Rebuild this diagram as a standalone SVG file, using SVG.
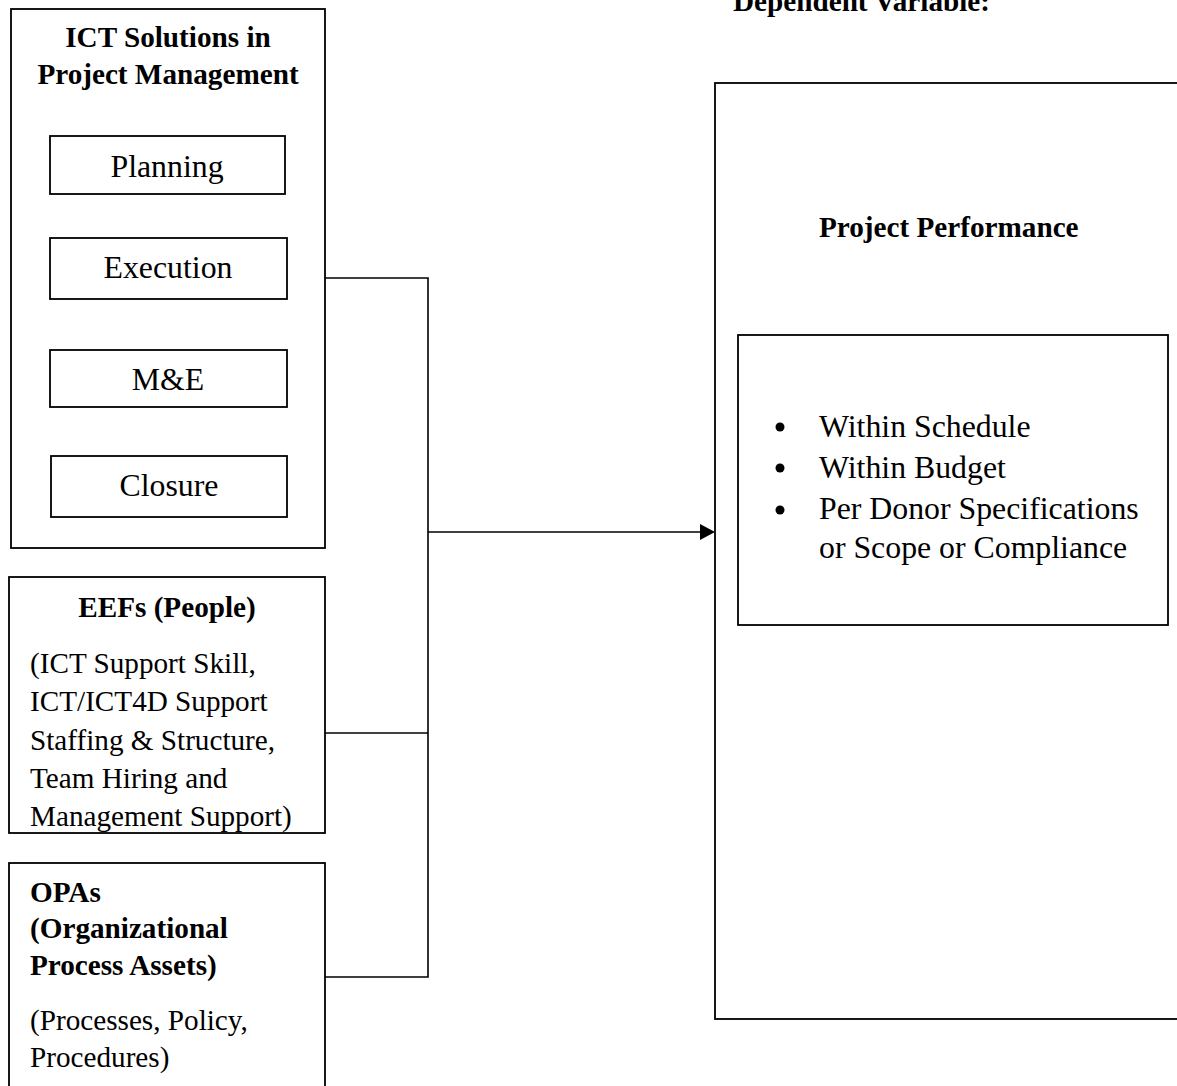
<svg xmlns="http://www.w3.org/2000/svg" width="1177" height="1086" viewBox="0 0 1177 1086">
<style>
.box{fill:#fff;stroke:#000;stroke-width:1.8}
.conn{fill:none;stroke:#000;stroke-width:1.6}
.t{font-family:"Liberation Serif","Times New Roman",serif;fill:#000}
.r12{font-size:31.8px}
.r11{font-size:29.2px}
.b11{font-size:29.2px;font-weight:bold}
.c{text-anchor:middle}
</style>
<rect width="1177" height="1086" fill="#fff"/>
<text class="t b11" x="733" y="11">Dependent Variable:</text>

<g id="ict">
<rect class="box" x="11" y="9" width="314" height="539"/>
<text class="t b11 c" x="168" y="47">ICT Solutions in</text>
<text class="t b11 c" x="168" y="84">Project Management</text>
</g>
<g id="planning">
<rect class="box" x="50" y="136" width="235" height="58"/>
<text class="t r12 c" x="167" y="177">Planning</text>
</g>
<g id="execution">
<rect class="box" x="50" y="238" width="237" height="61"/>
<text class="t r12 c" x="168" y="278">Execution</text>
</g>
<g id="me">
<rect class="box" x="50" y="350" width="237" height="57"/>
<text class="t r12 c" x="168" y="390">M&amp;E</text>
</g>
<g id="closure">
<rect class="box" x="51" y="456" width="236" height="61"/>
<text class="t r12 c" x="169" y="496">Closure</text>
</g>

<g id="eefs">
<rect class="box" x="9" y="577" width="316" height="256"/>
<text class="t b11 c" x="167" y="617">EEFs (People)</text>
<text class="t r11" x="30" y="673">(ICT Support Skill,</text>
<text class="t r11" x="30" y="711">ICT/ICT4D Support</text>
<text class="t r11" x="30" y="750">Staffing &amp; Structure,</text>
<text class="t r11" x="30" y="788">Team Hiring and</text>
<text class="t r11" x="30" y="826">Management Support)</text>
</g>

<g id="opas">
<rect class="box" x="9" y="863" width="316" height="240"/>
<text class="t b11" x="30" y="902">OPAs</text>
<text class="t b11" x="30" y="938">(Organizational</text>
<text class="t b11" x="30" y="975">Process Assets)</text>
<text class="t r11" x="30" y="1030">(Processes, Policy,</text>
<text class="t r11" x="30" y="1067">Procedures)</text>
</g>

<g id="performance">
<rect class="box" x="715" y="83" width="500" height="936"/>
<text class="t b11" x="819" y="237">Project Performance</text>
</g>
<g id="criteria">
<rect class="box" x="738" y="335" width="430" height="290"/>
<circle cx="780" cy="427" r="4.5"/>
<circle cx="780" cy="468" r="4.5"/>
<circle cx="780" cy="510" r="4.5"/>
<text class="t r12" x="819" y="437">Within Schedule</text>
<text class="t r12" x="819" y="478">Within Budget</text>
<text class="t r12" x="819" y="519">Per Donor Specifications</text>
<text class="t r12" x="819" y="558">or Scope or Compliance</text>
</g>

<g id="connectors">
<polyline class="conn" points="325,278 428,278 428,977 325,977"/>
<line class="conn" x1="325" y1="733" x2="428" y2="733"/>
<line class="conn" x1="428" y1="532" x2="702" y2="532"/>
<polygon points="715,532 700,524 700,540" fill="#000"/>
</g>
</svg>
